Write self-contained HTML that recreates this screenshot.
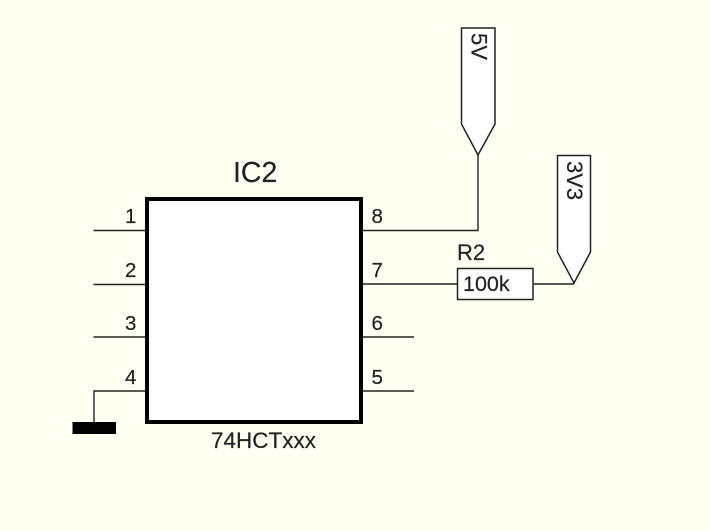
<!DOCTYPE html>
<html>
<head>
<meta charset="utf-8">
<style>
html,body{margin:0;padding:0;background:#fffff2;}
svg{display:block;}
text{font-family:"Liberation Sans",sans-serif;fill:#222;stroke:#222;stroke-width:0.2px;}
</style>
</head>
<body>
<svg width="710" height="531" viewBox="0 0 710 531" xmlns="http://www.w3.org/2000/svg">
<rect width="710" height="531" fill="#fffff2"/>
<g stroke="#222" stroke-width="1.4" fill="none">
<path d="M93.5 230.5H147M93.5 284.5H147M93.5 337H147M147 391H94V424"/>
<path d="M361 230.5H478V155M361 284H458M533 284H574M361 337H414M361 391H414"/>
</g>
<rect x="147" y="199" width="214" height="223" fill="#fff" stroke="#000" stroke-width="4"/>
<rect x="72.500" y="422" width="43.500" height="12" fill="#000"/>
<rect x="457.500" y="268.500" width="75.500" height="31" fill="#fff" stroke="#222" stroke-width="1.5"/>
<path d="M461.500 28H495V124L478 155L461.500 124Z" fill="#fff" stroke="#222" stroke-width="1.5"/>
<path d="M557.500 155.500H590.500V252L574 283L557.500 252Z" fill="#fff" stroke="#222" stroke-width="1.5"/>
<text x="233" y="182" font-size="28.500">IC2</text>
<g font-size="20.500">
<text x="125" y="223">1</text>
<text x="125" y="277">2</text>
<text x="125" y="330">3</text>
<text x="125" y="384">4</text>
<text x="371.500" y="223">8</text>
<text x="371.500" y="277">7</text>
<text x="371.500" y="330">6</text>
<text x="371.500" y="384">5</text>
</g>
<text x="211" y="448" font-size="22.500">74HCTxxx</text>
<text x="457" y="260" font-size="22">R2</text>
<text x="463" y="291" font-size="21.500">100k</text>
<text transform="translate(471.500,33) rotate(90)" font-size="22">5V</text>
<text transform="translate(567,161) rotate(90)" font-size="22">3V3</text>
</svg>
</body>
</html>
